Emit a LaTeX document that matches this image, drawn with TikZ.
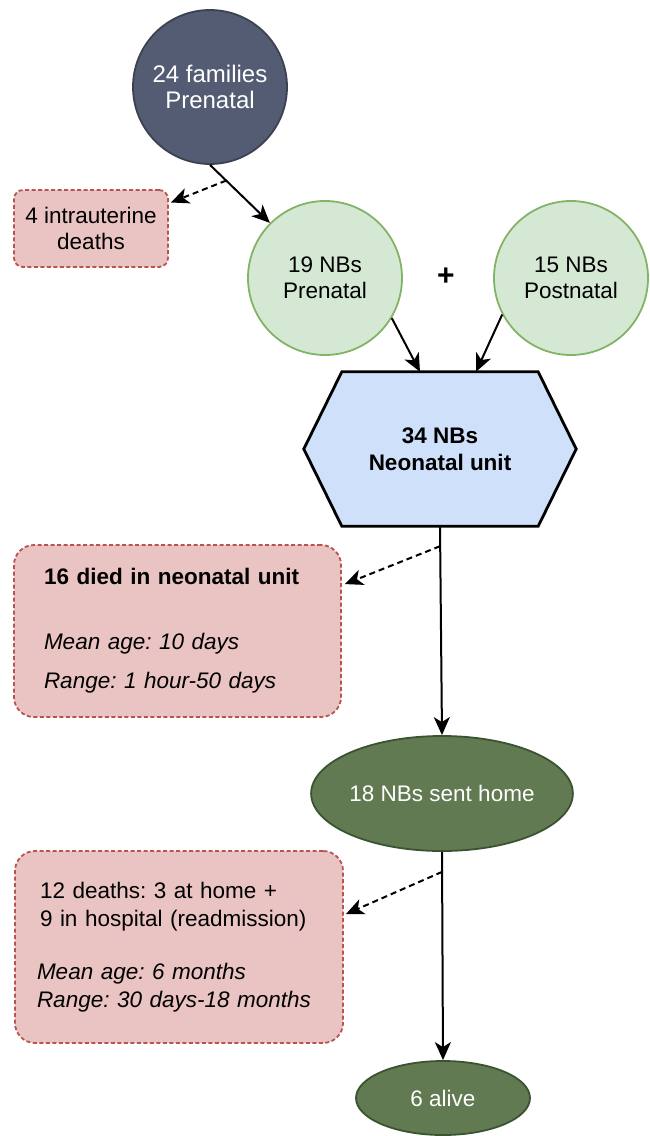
\documentclass[tikz,border=0pt]{standalone}
\usepackage{fontspec}
\setmainfont{Liberation Sans}
\usetikzlibrary{shapes.geometric,arrows.meta,calc}
\definecolor{slatefill}{HTML}{535C72}
\definecolor{slatedraw}{HTML}{3B4250}
\definecolor{gfill}{HTML}{D5E8D4}
\definecolor{gdraw}{HTML}{82B366}
\definecolor{rfill}{HTML}{EAC4C3}
\definecolor{rdraw}{HTML}{B85450}
\definecolor{bfill}{HTML}{CFE0FA}
\definecolor{dgfill}{HTML}{617A52}
\definecolor{dgdraw}{HTML}{3A5431}
\tikzset{
  txt/.style={font=\fontsize{22.5}{26}\selectfont},
  topcirc/.style={circle, minimum size=154pt, inner sep=0pt, fill=slatefill, draw=slatedraw, line width=1.8pt, text=white, align=center, font=\fontsize{24}{26}\selectfont},
  gcirc/.style={circle, minimum size=154pt, inner sep=0pt, fill=gfill, draw=gdraw, line width=1.8pt, align=center, txt},
  redbox/.style={rectangle, rounded corners=#1, fill=rfill, draw=rdraw, line width=1.8pt, dash pattern=on 4pt off 2.5pt, txt},
  redbox/.default=20pt,
  dgell/.style={ellipse, inner sep=0pt, fill=dgfill, draw=dgdraw, line width=1.8pt, text=white, txt},
  arr/.style={line width=2pt, -{Stealth[length=18pt,width=16pt,inset=5pt]}},
  darr/.style={arr, dash pattern=on 6pt off 4pt},
}
\begin{document}
\frenchspacing
\begin{tikzpicture}[x=1pt,y=-1pt]
\useasboundingbox (0,0) rectangle (650,1136);
\node[topcirc] (fam) at (210,87) {24 families\\Prenatal};
\node[redbox=9pt, minimum width=154pt, minimum height=77pt, align=center, inner sep=0pt] (iud) at (91,228.5) {4 intrauterine\\deaths};
\node[gcirc] (nb19) at (325,278) {19 NBs\\Prenatal};
\node[gcirc] (nb15) at (571,278) {15 NBs\\Postnatal};
\node[font=\fontsize{30}{30}\selectfont\bfseries] (plus) at (446,277) {+};
% hexagon
\node[rectangle, minimum width=272pt, minimum height=154pt, inner sep=0pt, align=center, txt] (hex) at (440,449) {};
\draw[fill=bfill, draw=black, line width=2.8pt, line join=miter]
  (hex.west) -- ($(hex.north west)+(38,0)$) -- ($(hex.north east)+(-38,0)$) -- (hex.east)
  -- ($(hex.south east)+(-38,0)$) -- ($(hex.south west)+(38,0)$) -- cycle;
\node[align=center, txt, font=\fontsize{22.5}{27}\selectfont\bfseries] at (hex.center) {34 NBs\\Neonatal unit};
% boxes
\node[redbox, minimum width=327pt, minimum height=172pt, text width=267pt, inner xsep=30pt, align=left, font=\fontsize{22.5}{27}\selectfont] (died) at (177.5,631)
  {\textbf{16 died in neonatal unit}\\[38pt]\textit{Mean age: 10 days}\\[12pt]\textit{Range: 1 hour-50 days}};
\node[dgell, minimum width=232pt, minimum height=115pt] (home) at (442,793.5) {18 NBs sent home};
\node[redbox, minimum width=328pt, minimum height=192pt, text width=278pt, inner xsep=25pt, align=left, font=\fontsize{22.5}{28}\selectfont] (deaths) at (179,947)
  {12 deaths: 3 at home +\\9 in hospital (readmission)\\[25pt]\hspace*{-3pt}\textit{Mean age: 6 months}\\\hspace*{-3pt}\textit{Range: 30 days-18 months}};
\node[dgell, minimum width=174pt, minimum height=74pt] (alive) at (443,1098) {6 alive};
% connectors
\draw[arr] (fam.south) -- (nb19.135);
\coordinate (c1) at ($(fam.south)!0.27!(nb19.135)$);
\draw[darr] (c1) -- ($(iud.north east)!0.17!(iud.south east)+(2,0)$);
\draw[arr] (nb19.-31) -- ($(hex.north)+(-20,0)$);
\draw[arr] (nb15.-152) -- ($(hex.north)+(36,0)$);
\draw[arr] (hex.south) -- (home.north);
\coordinate (c2) at ($(hex.south)+(0,20)$);
\draw[darr] (c2) -- ($(died.north east)!0.23!(died.south east)+(3,0)$);
\draw[arr] (home.south) -- (alive.north);
\coordinate (c3) at ($(home.south)+(0,20)$);
\draw[darr] (c3) -- ($(deaths.north east)!0.33!(deaths.south east)+(2,0)$);
\end{tikzpicture}
\end{document}
